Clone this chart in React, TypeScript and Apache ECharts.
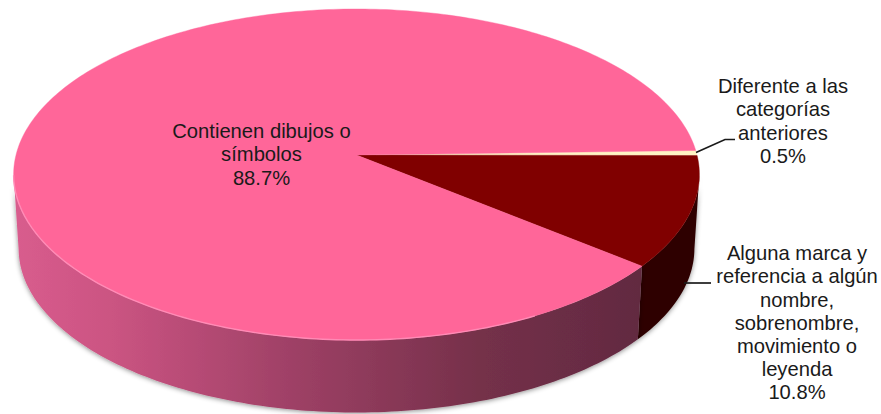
import React, { useEffect, useRef } from "react";
import * as echarts from "echarts";

const categories = [
  "Diferente a las\ncategorías\nanteriores",
  "Alguna marca y\nreferencia a algún\nnombre,\nsobrenombre,\nmovimiento o\nleyenda",
  "Contienen dibujos o\nsímbolos",
];
const values = [0.5, 10.8, 88.7];
const topColors = ["#fff3c4", "#800000", "#ff6699"];

// Projected-disc geometry of the 3D pie (layout only)
const START_DEG = -1.6;
const APEX = { x: 356.5, y: 155 };
const A = 163.2;
const C = 0.1178;
const D = 340.5;
const TOP_CENTER = { x: 356.5, y: 175 };
const BOTTOM_CENTER = { x: 356.5, y: 249 };
const BOTTOM_SX = 338 / 343;
const BOTTOM_SY = 163.5 / 165;
const RIGHT_DEG = 6.9;
const LEFT_DEG = 173.1;

const rad = (d: number) => (d * Math.PI) / 180;
const topPoint = (deg: number): number[] => {
  const u = Math.cos(rad(deg));
  const v = Math.sin(rad(deg));
  const w = 1 - C * v;
  return [APEX.x + (D * u) / w, APEX.y + (A * v) / w];
};
const bottomPoint = (deg: number): number[] => {
  const p = topPoint(deg);
  return [
    BOTTOM_CENTER.x + (p[0] - TOP_CENTER.x) * BOTTOM_SX,
    BOTTOM_CENTER.y + (p[1] - TOP_CENTER.y) * BOTTOM_SY,
  ];
};
const arc = (from: number, to: number, f: (d: number) => number[]) => {
  const n = Math.max(2, Math.ceil(Math.abs(to - from)));
  const pts: number[][] = [];
  for (let i = 0; i <= n; i++) pts.push(f(from + ((to - from) * i) / n));
  return pts;
};
const sliceRange = (index: number) => {
  const total = values.reduce((s, v) => s + v, 0);
  const before = values.slice(0, index).reduce((s, v) => s + v, 0);
  return [
    START_DEG + (before / total) * 360,
    START_DEG + ((before + values[index]) / total) * 360,
  ];
};

const wallFills: any[] = [
  null,
  "#2e0000",
  new echarts.graphic.LinearGradient(
    18,
    0,
    640,
    0,
    [
      { offset: 0, color: "#d85c8d" },
      { offset: 0.15, color: "#cb5482" },
      { offset: 0.45, color: "#9d4065" },
      { offset: 0.75, color: "#743049" },
      { offset: 1, color: "#622a41" },
    ],
    true as any
  ),
];

const labelFont = '20.2px "Liberation Sans", Arial, sans-serif';
const labelPos = [
  { x: 783, y: 74.7 },
  { x: 797, y: 241.7 },
  { x: 261.5, y: 119.7 },
];
const LINE_H = 23.2;

export default function App() {
  const ref = useRef<HTMLDivElement>(null);
  useEffect(() => {
    document.body.style.margin = "0";
    const chart = echarts.init(ref.current!, undefined, { renderer: "svg" });
    const data = values.map((v) => [v]);
    chart.setOption({
      animation: false,
      backgroundColor: "#ffffff",
      series: [
        {
          type: "custom",
          coordinateSystem: "none",
          silent: true,
          clip: false,
          z: 1,
          data,
          renderItem: (params: any) => {
            const [s, e] = sliceRange(params.dataIndex);
            const from = Math.max(s, RIGHT_DEG);
            const to = Math.min(e, LEFT_DEG);
            if (to <= from) return { type: "group", children: [] };
            const points = [
              ...arc(from, to, topPoint),
              ...arc(to, from, bottomPoint),
            ];
            return {
              type: "polygon",
              shape: { points },
              style: {
                fill: wallFills[params.dataIndex],
                shadowBlur: 5,
                shadowColor: "rgba(0,0,0,0.45)",
                shadowOffsetX: 0,
                shadowOffsetY: 1,
              },
            };
          },
        },
        {
          type: "custom",
          coordinateSystem: "none",
          silent: true,
          clip: false,
          z: 2,
          data,
          renderItem: (params: any) => {
            const [s, e] = sliceRange(params.dataIndex);
            const color = topColors[params.dataIndex];
            const children: any[] = [
              {
                type: "polygon",
                shape: { points: [[APEX.x, APEX.y], ...arc(s, e, topPoint)] },
                style: { fill: color, stroke: color, lineWidth: 0.4 },
              },
            ];
            if (params.dataIndex === 2) {
              children.push({
                type: "polyline",
                shape: { points: arc(62, 173, topPoint) },
                style: { fill: "none", stroke: "#ff8bb6", lineWidth: 1.4 },
              });
            }
            return { type: "group", children };
          },
        },
        {
          type: "custom",
          coordinateSystem: "none",
          silent: true,
          clip: false,
          z: 3,
          data,
          renderItem: (params: any, api: any) => {
            const i = params.dataIndex;
            const pos = labelPos[i];
            const children: any[] = [
              {
                type: "text",
                x: pos.x,
                y: pos.y,
                style: {
                  text: `${categories[i]}\n${api.value(0).toFixed(1)}%`,
                  font: labelFont,
                  fill: "#1a1a1a",
                  align: "center",
                  verticalAlign: "top",
                  lineHeight: LINE_H,
                },
              },
            ];
            if (i === 0) {
              children.push({
                type: "polyline",
                shape: { points: [[696, 152.5], [725, 139.5], [735, 139.5]] },
                style: { fill: "none", stroke: "#1a1a1a", lineWidth: 1.7 },
              });
            }
            if (i === 1) {
              children.push({
                type: "line",
                shape: { x1: 684, y1: 283, x2: 711, y2: 283 },
                style: { stroke: "#1a1a1a", lineWidth: 1.7 },
              });
            }
            return { type: "group", children };
          },
        },
      ],
    });
    return () => chart.dispose();
  }, []);
  return <div ref={ref} style={{ width: 881, height: 414 }} />;
}
